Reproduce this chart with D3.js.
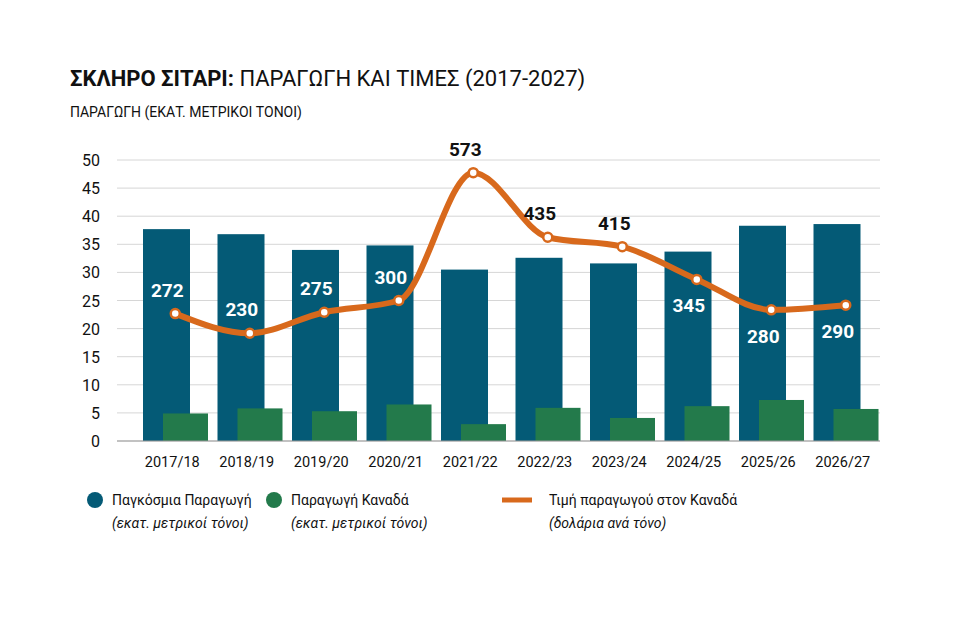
<!DOCTYPE html>
<html lang="el">
<head>
<meta charset="UTF-8">
<title>Σκληρό σιτάρι</title>
<script src="https://d3js.org/d3.v7.min.js"></script>
<style>
  body { margin: 0; background: #fff; }
  text { font-family: "Liberation Sans Narrow", "Roboto", sans-serif; }
</style>
</head>
<body>
<div id="chart"></div>
<script>
var seasons = ["2017/18", "2018/19", "2019/20", "2020/21", "2021/22", "2022/23", "2023/24", "2024/25", "2025/26", "2026/27"];
var worldProd = [37.7, 36.8, 34.0, 34.8, 30.5, 32.6, 31.6, 33.7, 38.3, 38.6];
var canadaProd = [4.9, 5.8, 5.3, 6.5, 3.0, 5.9, 4.1, 6.2, 7.3, 5.7];
var canadaPrice = [272, 230, 275, 300, 573, 435, 415, 345, 280, 290];
var labelAbove = [true, true, true, true, true, true, true, false, false, false];
var yTicks = [0, 5, 10, 15, 20, 25, 30, 35, 40, 45, 50];

var W = 960, H = 620;
var plotLeft = 135, plotRight = 880, plotTop = 160, plotBottom = 441;

var svg = d3.select("#chart").append("svg").attr("width", W).attr("height", H);

var x = d3.scaleBand().domain(seasons).range([plotLeft, plotRight]);
var y = d3.scaleLinear().domain([0, 50]).range([plotBottom, plotTop]);
var yPrice = d3.scaleLinear().domain([0, 600]).range([plotBottom, plotTop]);

// title
var t = svg.append("text").attr("x", 70).attr("y", 86).attr("font-size", 22).attr("fill", "#111");
t.append("tspan").attr("font-weight", "bold").text("ΣΚΛΗΡΟ ΣΙΤΑΡΙ: ");
t.append("tspan").text("ΠΑΡΑΓΩΓΗ ΚΑΙ ΤΙΜΕΣ (2017-2027)");
svg.append("text").attr("x", 70).attr("y", 117).attr("font-size", 14).attr("fill", "#111")
  .text("ΠΑΡΑΓΩΓΗ (ΕΚΑΤ. ΜΕΤΡΙΚΟΙ ΤΟΝΟΙ)");

// grid
svg.append("g").selectAll("line").data(yTicks).enter().append("line")
  .attr("x1", 117).attr("x2", plotRight).attr("y1", d => y(d)).attr("y2", d => y(d))
  .attr("stroke", "#d6d6d6").attr("stroke-width", 1);
svg.append("g").selectAll("text").data(yTicks).enter().append("text")
  .attr("x", 100).attr("y", d => y(d) + 6).attr("text-anchor", "end")
  .attr("font-size", 16).attr("fill", "#111").text(d => d);

// bars
svg.append("g").selectAll("rect").data(worldProd).enter().append("rect")
  .attr("x", (d, i) => x(seasons[i]) + 8).attr("width", 47)
  .attr("y", d => y(d)).attr("height", d => plotBottom - y(d)).attr("fill", "#045a76");
svg.append("g").selectAll("rect").data(canadaProd).enter().append("rect")
  .attr("x", (d, i) => x(seasons[i]) + 28).attr("width", 45)
  .attr("y", d => y(d)).attr("height", d => plotBottom - y(d)).attr("fill", "#237a4b");

svg.append("line").attr("x1", 117).attr("x2", plotRight).attr("y1", plotBottom).attr("y2", plotBottom)
  .attr("stroke", "#999");

// x labels
svg.append("g").selectAll("text").data(seasons).enter().append("text")
  .attr("x", d => x(d) + x.bandwidth() / 2).attr("y", 467).attr("text-anchor", "middle")
  .attr("font-size", 14.5).attr("fill", "#111").text(d => d);

// price line
var px = (d, i) => x(seasons[i]) + x.bandwidth() / 2 + 3;
var line = d3.line().x(px).y(d => yPrice(d)).curve(d3.curveMonotoneX);
svg.append("path").datum(canadaPrice).attr("d", line).attr("fill", "none")
  .attr("stroke", "#d8691c").attr("stroke-width", 6).attr("stroke-linejoin", "round");
svg.append("g").selectAll("circle").data(canadaPrice).enter().append("circle")
  .attr("cx", px).attr("cy", d => yPrice(d)).attr("r", 4.5)
  .attr("fill", "#fff").attr("stroke", "#d8691c").attr("stroke-width", 2.5);
svg.append("g").selectAll("text").data(canadaPrice).enter().append("text")
  .attr("x", (d, i) => px(d, i) - 8)
  .attr("y", (d, i) => labelAbove[i] ? yPrice(d) - 17 : yPrice(d) + 33)
  .attr("text-anchor", "middle").attr("font-size", 19).attr("font-weight", "bold")
  .attr("fill", (d, i) => (i >= 4 && i <= 6) ? "#111" : "#fff").text(d => d);

// legend
var lg = svg.append("g").attr("font-size", 14).attr("fill", "#111");
lg.append("circle").attr("cx", 95).attr("cy", 500).attr("r", 8).attr("fill", "#045a76");
lg.append("text").attr("x", 112).attr("y", 505).text("Παγκόσμια Παραγωγή");
lg.append("text").attr("x", 112).attr("y", 528).attr("font-style", "italic").text("(εκατ. μετρικοί τόνοι)");
lg.append("circle").attr("cx", 274).attr("cy", 500).attr("r", 8).attr("fill", "#237a4b");
lg.append("text").attr("x", 291).attr("y", 505).text("Παραγωγή Καναδά");
lg.append("text").attr("x", 291).attr("y", 528).attr("font-style", "italic").text("(εκατ. μετρικοί τόνοι)");
lg.append("line").attr("x1", 502).attr("x2", 532).attr("y1", 500).attr("y2", 500)
  .attr("stroke", "#d8691c").attr("stroke-width", 5);
lg.append("text").attr("x", 549).attr("y", 505).text("Τιμή παραγωγού στον Καναδά");
lg.append("text").attr("x", 549).attr("y", 528).attr("font-style", "italic").text("(δολάρια ανά τόνο)");
</script>
</body>
</html>
